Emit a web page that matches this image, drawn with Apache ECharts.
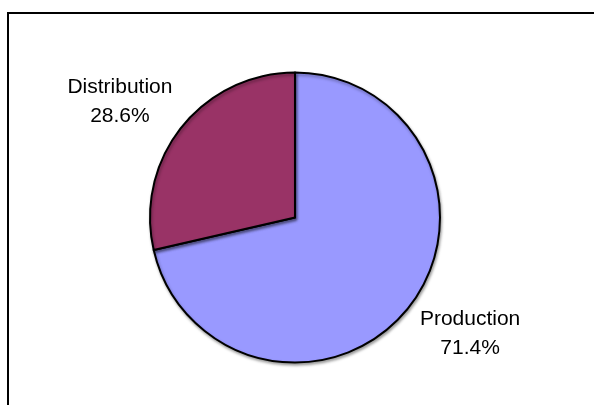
<!DOCTYPE html>
<html>
<head>
<meta charset="utf-8">
<script src="https://cdn.jsdelivr.net/npm/echarts@6/dist/echarts.min.js"></script>
<style>
  html, body { margin: 0; padding: 0; background: #fff; }
  #chart { width: 594px; height: 405px; }
</style>
</head>
<body>
<div id="chart"></div>
<script>
// Share of work by stage (percent)
const categories = ['Production', 'Distribution'];
const shares = [71.4, 28.6];
const sliceColors = ['#9999FF', '#993366'];

const pieData = categories.map((name, i) => ({
  name: name,
  value: shares[i],
  itemStyle: { color: sliceColors[i] }
}));

const chart = echarts.init(document.getElementById('chart'), null, { renderer: 'canvas' });

chart.setOption({
  animation: false,
  backgroundColor: '#ffffff',
  graphic: [{
    type: 'rect',
    silent: true,
    shape: { x: 8, y: 13, width: 620, height: 420 },
    style: { fill: 'none', stroke: '#000', lineWidth: 2 }
  }],
  series: [
    {
      // the visible pie
      type: 'pie',
      center: [295, 217.5],
      radius: [0, 145],
      startAngle: 90,
      clockwise: true,
      silent: true,
      label: { show: false },
      labelLine: { show: false },
      itemStyle: {
        borderColor: '#000',
        borderWidth: 2,
        shadowColor: 'rgba(0,0,0,0.35)',
        shadowBlur: 3,
        shadowOffsetX: 1,
        shadowOffsetY: 2
      },
      data: pieData
    },
    {
      // transparent ring that carries the category labels outside the pie
      type: 'pie',
      center: [295, 217.5],
      radius: [0, 414],
      startAngle: 95,
      clockwise: true,
      silent: true,
      z: 3,
      itemStyle: { color: 'rgba(0,0,0,0)', borderWidth: 0 },
      labelLine: { show: false },
      label: {
        show: true,
        position: 'inside',
        formatter: '{b}\n{c}%',
        fontFamily: 'Liberation Sans, Arial, sans-serif',
        fontSize: 21,
        lineHeight: 29,
        color: '#000',
        align: 'center'
      },
      data: categories.map((name, i) => ({ name: name, value: shares[i] }))
    }
  ]
});
</script>
</body>
</html>
